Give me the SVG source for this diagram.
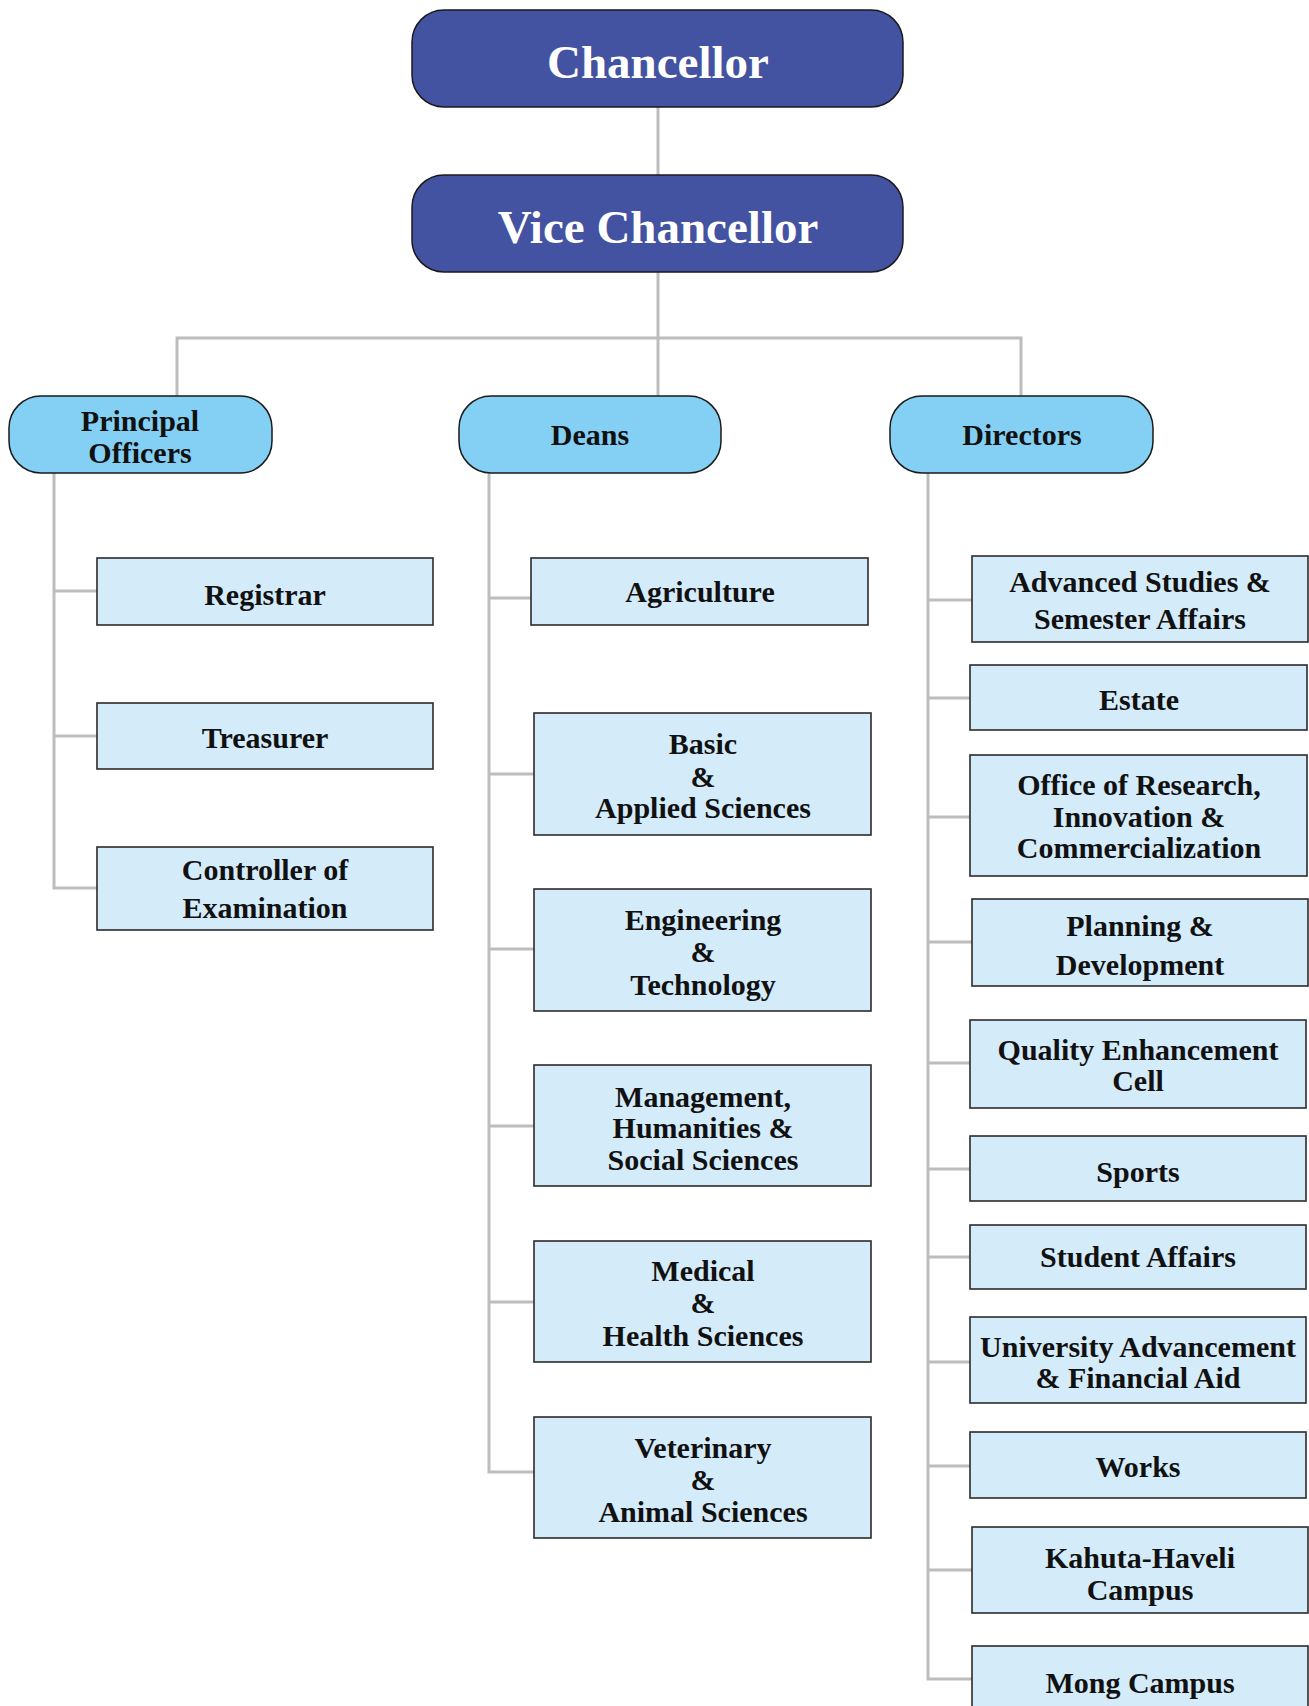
<svg xmlns="http://www.w3.org/2000/svg" width="1309" height="1706" viewBox="0 0 1309 1706">
<style>
.conn{stroke:#BDBDBD;stroke-width:3;fill:none}
text{font-family:"Liberation Serif","Times New Roman",serif;font-weight:bold;text-anchor:middle;fill:#111;font-size:30px}
.top rect{fill:#4353A1;stroke:#1a1a1a;stroke-width:1.5}
.top text{fill:#fff;font-size:47px}
.pill rect{fill:#84D0F4;stroke:#1a1a1a;stroke-width:1.5}
.box rect{fill:#D4EBFA;stroke:#2b2b2b;stroke-width:1.6}
</style>
<rect width="1309" height="1706" fill="#fff"/>
<g id="connectors">
<path class="conn" d="M658,107V175M658,272V338M177,396V338H1021V396M658,338V396"/>
<path class="conn" d="M54,473V888H97M54,591H97M54,736H97"/>
<path class="conn" d="M489,473V1472H534M489,598H531M489,774H534M489,949H534M489,1126H534M489,1302H534"/>
<path class="conn" d="M928,473V1679H972M928,600H972M928,698H970M928,817H970M928,942H972M928,1063H970M928,1169H970M928,1257H970M928,1362H970M928,1466H970M928,1570H972"/>
</g>
<g id="chancellor" class="top"><rect x="412" y="10" width="491" height="97" rx="32"/><text x="658" y="78">Chancellor</text></g>
<g id="vice-chancellor" class="top"><rect x="412" y="175" width="491" height="97" rx="32"/><text x="658" y="243">Vice Chancellor</text></g>
<g id="principal-officers" class="pill"><rect x="9" y="396" width="263" height="77" rx="32"/><text x="140" y="431">Principal</text><text x="140" y="463">Officers</text></g>
<g id="deans" class="pill"><rect x="459" y="396" width="262" height="77" rx="32"/><text x="590" y="445">Deans</text></g>
<g id="directors" class="pill"><rect x="890" y="396" width="263" height="77" rx="32"/><text x="1022" y="445">Directors</text></g>
<g id="registrar" class="box"><rect x="97" y="558" width="336" height="67"/><text x="265" y="605">Registrar</text></g>
<g id="treasurer" class="box"><rect x="97" y="703" width="336" height="66"/><text x="265" y="748">Treasurer</text></g>
<g id="controller" class="box"><rect x="97" y="847" width="336" height="83"/><text x="265" y="880">Controller of</text><text x="265" y="918">Examination</text></g>
<g id="agriculture" class="box"><rect x="531" y="558" width="337" height="67"/><text x="700" y="602">Agriculture</text></g>
<g id="basic" class="box"><rect x="534" y="713" width="337" height="122"/><text x="703" y="754">Basic</text><text x="703" y="787">&amp;</text><text x="703" y="818">Applied Sciences</text></g>
<g id="engineering" class="box"><rect x="534" y="889" width="337" height="122"/><text x="703" y="930">Engineering</text><text x="703" y="962">&amp;</text><text x="703" y="995">Technology</text></g>
<g id="management" class="box"><rect x="534" y="1065" width="337" height="121"/><text x="703" y="1107">Management,</text><text x="703" y="1138">Humanities &amp;</text><text x="703" y="1170">Social Sciences</text></g>
<g id="medical" class="box"><rect x="534" y="1241" width="337" height="121"/><text x="703" y="1281">Medical</text><text x="703" y="1313">&amp;</text><text x="703" y="1346">Health Sciences</text></g>
<g id="veterinary" class="box"><rect x="534" y="1417" width="337" height="121"/><text x="703" y="1458">Veterinary</text><text x="703" y="1490">&amp;</text><text x="703" y="1522">Animal Sciences</text></g>
<g id="advanced-studies" class="box"><rect x="972" y="556" width="336" height="86"/><text x="1140" y="592">Advanced Studies &amp;</text><text x="1140" y="629">Semester Affairs</text></g>
<g id="estate" class="box"><rect x="970" y="665" width="337" height="65"/><text x="1139" y="710">Estate</text></g>
<g id="oric" class="box"><rect x="970" y="755" width="337" height="121"/><text x="1139" y="795">Office of Research,</text><text x="1139" y="827">Innovation &amp;</text><text x="1139" y="858">Commercialization</text></g>
<g id="planning" class="box"><rect x="972" y="899" width="336" height="87"/><text x="1140" y="936">Planning &amp;</text><text x="1140" y="975">Development</text></g>
<g id="qec" class="box"><rect x="970" y="1020" width="336" height="88"/><text x="1138" y="1060">Quality Enhancement</text><text x="1138" y="1091">Cell</text></g>
<g id="sports" class="box"><rect x="970" y="1136" width="336" height="65"/><text x="1138" y="1182">Sports</text></g>
<g id="student-affairs" class="box"><rect x="970" y="1225" width="336" height="64"/><text x="1138" y="1267">Student Affairs</text></g>
<g id="university-advancement" class="box"><rect x="970" y="1317" width="336" height="86"/><text x="1138" y="1357">University Advancement</text><text x="1138" y="1388">&amp; Financial Aid</text></g>
<g id="works" class="box"><rect x="970" y="1432" width="336" height="66"/><text x="1138" y="1477">Works</text></g>
<g id="kahuta" class="box"><rect x="972" y="1527" width="336" height="86"/><text x="1140" y="1568">Kahuta-Haveli</text><text x="1140" y="1600">Campus</text></g>
<g id="mong" class="box"><rect x="972" y="1646" width="336" height="75"/><text x="1140" y="1693">Mong Campus</text></g>
</svg>
